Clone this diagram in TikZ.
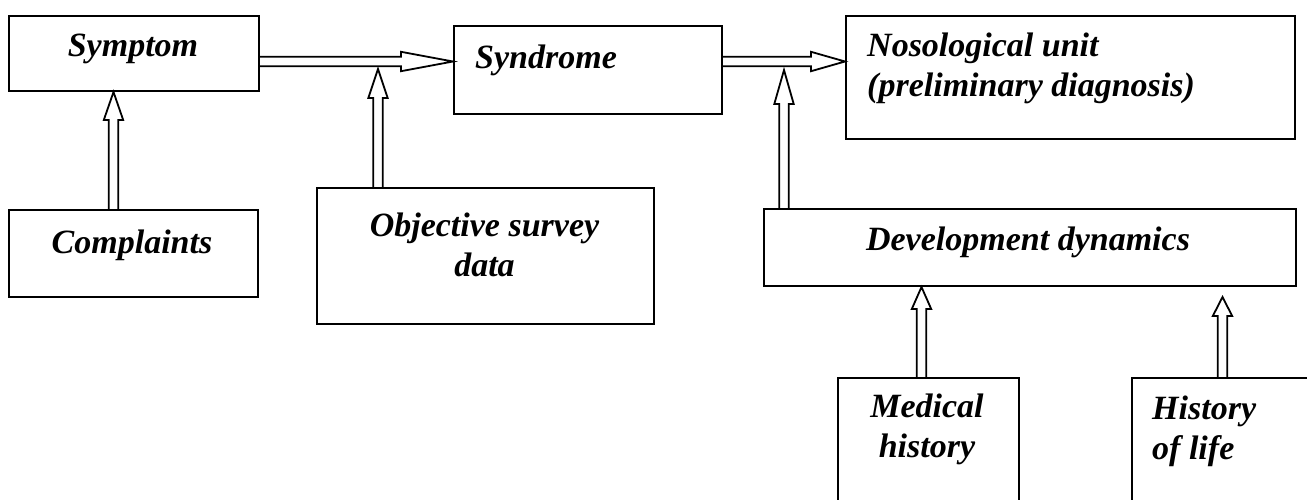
\documentclass[tikz,border=0pt]{standalone}
\usepackage{fontspec}
\setmainfont{Liberation Serif}
\usetikzlibrary{calc}
\tikzset{
  box/.style={draw, line width=2pt, inner sep=0pt, anchor=north west},
  lbl/.style={font=\fontsize{34}{40}\selectfont\bfseries\itshape, inner sep=0pt, anchor=base},
  hollow/.style={draw, line width=1.8pt, line join=miter}
}
\newcommand{\hollowup}[3]{\draw[hollow] let \p1=(#1), \p2=(#2) in
  (\x1-4.7pt,\y1) -- (\x1-4.7pt,\y2-#3) -- (\x1-9.7pt,\y2-#3) -- (\x1,\y2)
  -- (\x1+9.7pt,\y2-#3) -- (\x1+4.7pt,\y2-#3) -- (\x1+4.7pt,\y1);}
\newcommand{\hollowright}[3]{\draw[hollow] let \p1=(#1), \p2=(#2) in
  (\x1,\y1+4.7pt) -- (\x2-#3,\y1+4.7pt) -- (\x2-#3,\y1+9.7pt) -- (\x2,\y1)
  -- (\x2-#3,\y1-9.7pt) -- (\x2-#3,\y1-4.7pt) -- (\x1,\y1-4.7pt);}
\begin{document}
\begin{tikzpicture}[x=1pt,y=-1pt]
\fill[white] (0,0) rectangle (1307,499);
\useasboundingbox (0,0) rectangle (1307,499);
\begin{scope}
\clip (0,0) rectangle (1307,499);
% boxes
\node[box, minimum width=250, minimum height=75] (symptom) at (8,15) {};
\node[box, minimum width=249, minimum height=87] (complaints) at (8,209) {};
\node[box, minimum width=268, minimum height=88] (syndrome) at (453,25) {};
\node[box, minimum width=449, minimum height=123] (noso) at (845,15) {};
\node[box, minimum width=337, minimum height=136] (objective) at (316,187) {};
\node[box, minimum width=532, minimum height=77] (dev) at (763,208) {};
\node[box, minimum width=181, minimum height=150] (medical) at (837,377) {};
\node[box, minimum width=200, minimum height=150] (history) at (1131,377) {};
\end{scope}
% labels (multi-line labels are anchored at the baseline of their last line)
\node[lbl] (tsymptom) at (133,56) {Symptom};
\node[lbl] (tcompl) at (132,253) {Complaints};
\node[lbl, anchor=base west] (tsyn) at (475,68) {Syndrome};
\node[lbl, anchor=base west, align=left] (tnoso) at (867,96) {Nosological unit\\(preliminary diagnosis)};
\node[lbl, align=center] (tobj) at (484.5,276) {Objective survey\\data};
\node[lbl] (tdev) at (1028,250) {Development dynamics};
\node[lbl, align=center] (tmed) at (927,457) {Medical\\history};
\node[lbl, anchor=base west, align=left] (thist) at (1152,459) {History\\of life};
% connector anchor points
\coordinate (b1) at ([yshift=-8pt]symptom.east);
\coordinate (b2) at (syndrome.east |- b1);
\coordinate (a1) at ([xshift=105.5pt]complaints.north west);
\coordinate (a1t) at ([xshift=105.5pt]symptom.south west);
\coordinate (d1) at ([xshift=62pt]objective.north west);
\coordinate (d1t) at ([yshift=-7.5pt]d1 |- b1);
\coordinate (e1) at ([xshift=21pt]dev.north west);
\coordinate (e1t) at ([yshift=-8.5pt]e1 |- b2);
\coordinate (f1) at ([xshift=84.5pt]medical.north west);
\coordinate (f1t) at (f1 |- dev.south);
\coordinate (g1) at ([xshift=91.5pt]history.north west);
\coordinate (g1t) at ([yshift=-10pt]g1 |- dev.south);
% arrows
\hollowright{b1}{syndrome.west |- b1}{52pt}
\hollowright{b2}{noso.west |- b2}{34pt}
\hollowup{a1}{a1t}{28pt}
\hollowup{d1}{d1t}{29pt}
\hollowup{e1}{e1t}{34pt}
\hollowup{f1}{f1t}{22pt}
\hollowup{g1}{g1t}{19pt}
\end{tikzpicture}
\end{document}
